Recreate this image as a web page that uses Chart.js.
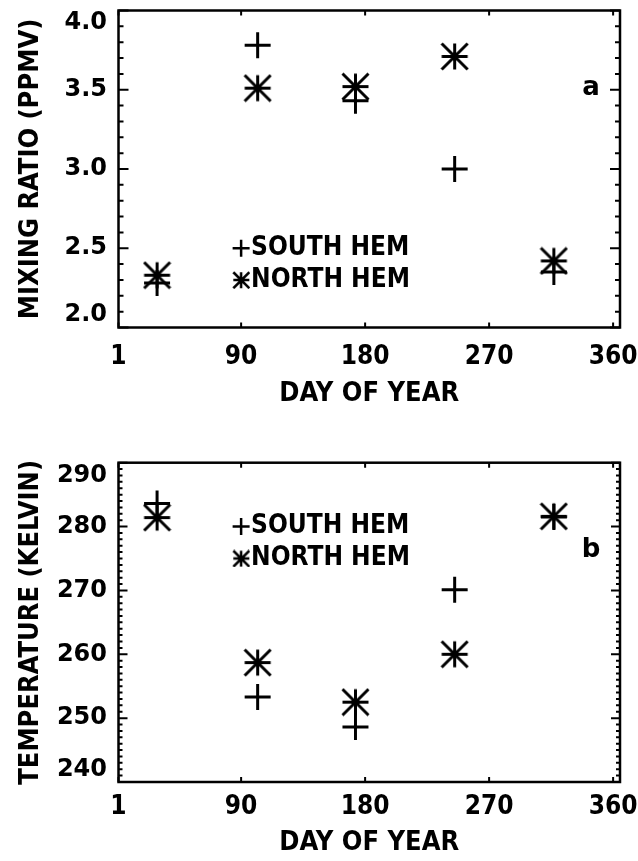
<!DOCTYPE html>
<html lang="en">
<head>
<meta charset="UTF-8">
<title>Mixing ratio and temperature by day of year</title>
<script src="https://cdn.jsdelivr.net/npm/chart.js"></script>
<style>
  body { margin: 0; background: white; }
  canvas { display: block; }
</style>
</head>
<body>
<canvas id="chartA" width="638" height="410"></canvas>
<canvas id="chartB" width="638" height="451"></canvas>
<script>
// day of year of each observation pair
const days = [29, 102, 173, 245, 317];
const xTicks = [1, 90, 180, 270, 360];
const seriesNames = ['SOUTH HEM', 'NORTH HEM'];

// panel a: mixing ratio (ppmv)
const mixSouth = [2.28, 3.78, 3.43, 3.00, 2.35];
const mixNorth = [2.33, 3.51, 3.52, 3.71, 2.42];

// panel b: temperature (K)
const tempSouth = [283.6, 253.3, 248.6, 270.1, 281.5];
const tempNorth = [281.4, 258.7, 252.5, 260.0, 281.6];

const SANS = '"DejaVu Sans", sans-serif';
const COND = '"DejaVu Sans Condensed", "DejaVu Sans", sans-serif';

// IDL style asterisk: plus plus an X reaching the corners
function asterisk(size, lw) {
    const c = document.createElement('canvas');
    c.width = c.height = size + lw;
    const g = c.getContext('2d');
    const m = lw / 2, e = size + lw / 2, h = c.width / 2;
    g.strokeStyle = 'black';
    g.lineWidth = lw;
    g.beginPath();
    g.moveTo(h, m); g.lineTo(h, e);
    g.moveTo(m, h); g.lineTo(e, h);
    g.moveTo(m, m); g.lineTo(e, e);
    g.moveTo(e, m); g.lineTo(m, e);
    g.stroke();
    return c;
}
const starBig = asterisk(26, 3);
const starSmall = asterisk(16, 2.5);

function isMajor(v, step) {
    return Math.abs(v / step - Math.round(v / step)) < 1e-6;
}

// frame, inward ticks, legend and panel letter
const framePlugin = {
    id: 'frame',
    afterDatasetsDraw(chart, args, o) {
        const { ctx, chartArea: a, scales: { x, y } } = chart;
        ctx.save();
        ctx.strokeStyle = 'black';
        ctx.lineWidth = 2;
        ctx.beginPath();
        y.ticks.forEach(t => {
            const py = y.getPixelForValue(t.value);
            const len = isMajor(t.value, o.major) ? o.majorLen : o.minorLen;
            ctx.moveTo(a.left, py); ctx.lineTo(a.left + len, py);
            ctx.moveTo(a.right, py); ctx.lineTo(a.right - len, py);
        });
        x.ticks.forEach(t => {
            const px = x.getPixelForValue(t.value);
            ctx.moveTo(px, a.bottom); ctx.lineTo(px, a.bottom - 5);
            ctx.moveTo(px, a.top); ctx.lineTo(px, a.top + 5);
        });
        ctx.stroke();
        ctx.lineWidth = 2.5;
        ctx.strokeRect(a.left, a.top, a.right - a.left, a.bottom - a.top);

        // legend
        const lx = x.getPixelForValue(o.legendDay);
        const y1 = y.getPixelForValue(o.legendValues[0]);
        const y2 = y.getPixelForValue(o.legendValues[1]);
        ctx.lineWidth = 2.5;
        ctx.beginPath();
        ctx.moveTo(lx - 8.5, y1); ctx.lineTo(lx + 8.5, y1);
        ctx.moveTo(lx, y1 - 8.5); ctx.lineTo(lx, y1 + 8.5);
        ctx.stroke();
        ctx.drawImage(starSmall, lx - starSmall.width / 2, y2 - starSmall.height / 2);
        ctx.fillStyle = 'black';
        ctx.font = 'bold 26px ' + COND;
        ctx.textBaseline = 'middle';
        ctx.textAlign = 'left';
        ctx.fillText(seriesNames[0], lx + 10, y1);
        ctx.fillText(seriesNames[1], lx + 10, y2);

        // panel letter
        ctx.font = 'bold 26px ' + SANS;
        ctx.textAlign = 'center';
        ctx.fillText(o.letter, x.getPixelForValue(o.letterDay), y.getPixelForValue(o.letterValue));
        ctx.restore();
    }
};

function makeChart(id, cfg) {
    // end labels sit just inside the frame, as in the original plot
    const yLabel = v => {
        if (!isMajor(v, cfg.frame.major)) return '';
        const s = v.toFixed(cfg.digits);
        if (Math.abs(v - cfg.max) < 1e-6) return ['', s];
        if (Math.abs(v - cfg.min) < 1e-6) return [s, ''];
        return s;
    };
    return new Chart(document.getElementById(id), {
        type: 'scatter',
        data: {
            datasets: [{
                label: seriesNames[0],
                data: days.map((d, i) => ({ x: d, y: cfg.south[i] })),
                pointStyle: 'cross',
                pointRadius: 13,
                borderWidth: 3,
                borderColor: 'black',
                backgroundColor: 'black'
            }, {
                label: seriesNames[1],
                data: days.map((d, i) => ({ x: d, y: cfg.north[i] })),
                pointStyle: starBig,
                pointRadius: 14,
                borderWidth: 3,
                borderColor: 'black',
                backgroundColor: 'black'
            }]
        },
        options: {
            responsive: false,
            animation: false,
            layout: {
                autoPadding: false,
                padding: { top: cfg.padTop, right: 18, left: 0, bottom: 0 }
            },
            plugins: {
                legend: { display: false },
                tooltip: { enabled: false },
                frame: cfg.frame
            },
            scales: {
                x: {
                    type: 'linear',
                    min: 1,
                    max: 365,
                    afterBuildTicks: s => { s.ticks = xTicks.map(v => ({ value: v })); },
                    afterFit: s => {
                        s.height = cfg.xHeight;
                        // let the "360" label hang into the right margin
                        s.paddingLeft = 0;
                        s.paddingRight = 0;
                    },
                    grid: { display: false, drawTicks: false },
                    border: { display: false },
                    ticks: {
                        color: 'black',
                        padding: cfg.xPad,
                        autoSkip: false,
                        maxRotation: 0,
                        font: { family: COND, size: 26, weight: 'bold' }
                    },
                    title: {
                        display: true,
                        text: 'DAY OF YEAR',
                        color: 'black',
                        padding: { top: 0, bottom: cfg.titlePad },
                        font: { family: COND, size: 27, weight: 'bold' }
                    }
                },
                y: {
                    min: cfg.min,
                    max: cfg.max,
                    afterFit: s => {
                        s.width = 118.5;
                        s.paddingTop = 0;
                        s.paddingBottom = 0;
                    },
                    grid: { display: false, drawTicks: false },
                    border: { display: false },
                    ticks: {
                        stepSize: cfg.minor,
                        maxTicksLimit: cfg.maxTicks,
                        autoSkip: false,
                        padding: 11.5,
                        color: 'black',
                        font: { family: SANS, size: 24, weight: 'bold', lineHeight: 1.05 },
                        callback: yLabel
                    },
                    title: {
                        display: true,
                        text: cfg.yTitle,
                        color: 'black',
                        padding: { top: 15, bottom: 0 },
                        font: { family: COND, size: 27, weight: 'bold' }
                    }
                }
            }
        },
        plugins: [framePlugin]
    });
}

makeChart('chartA', {
    south: mixSouth, north: mixNorth,
    min: 2, max: 4, minor: 0.1, maxTicks: 30, digits: 1,
    yTitle: 'MIXING RATIO (PPMV)',
    padTop: 10.5, xHeight: 82.5, xPad: 14, titlePad: 0,
    frame: {
        major: 0.5, majorLen: 10, minorLen: 5,
        legendDay: 90, legendValues: [2.5, 2.3],
        letter: 'a', letterDay: 344, letterValue: 3.51
    }
});

makeChart('chartB', {
    south: tempSouth, north: tempNorth,
    min: 240, max: 290, minor: 1, maxTicks: 60, digits: 0,
    yTitle: 'TEMPERATURE (KELVIN)',
    padTop: 52.7, xHeight: 79, xPad: 10, titlePad: 1.8,
    frame: {
        major: 10, majorLen: 9, minorLen: 4,
        legendDay: 90, legendValues: [280, 275],
        letter: 'b', letterDay: 344, letterValue: 276.3
    }
});
</script>
</body>
</html>
